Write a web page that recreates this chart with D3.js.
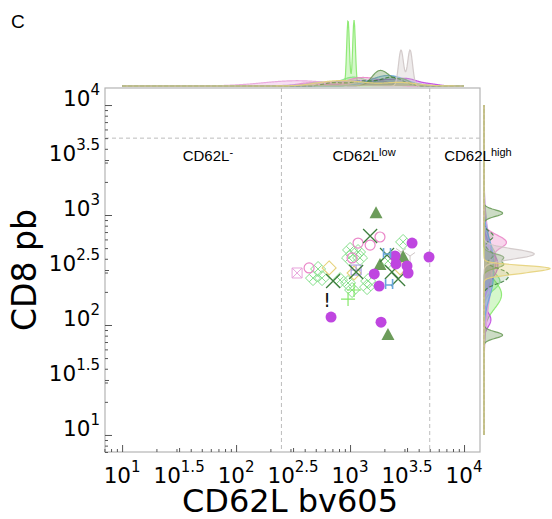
<!DOCTYPE html>
<html>
<head>
<meta charset="utf-8">
<script src="https://cdn.jsdelivr.net/npm/d3@7"></script>
<style>
  body { margin: 0; background: #fff; }
  svg { display: block; }
</style>
</head>
<body>
<script>
// panel c : CD62L bv605 vs CD8 pb, log-log scatter with marginal kdes

var tickExps = [1, 1.5, 2, 2.5, 3, 3.5, 4];
var gatesX = [250, 5000];
var gatesY = [5000];
var gateNames = [["CD62L", "-"], ["CD62L", "low"], ["CD62L", "high"]];

// one pair of arrays per marker group
var lgreenX = [524, 473, 568, 1000, 1175, 980, 1224, 817, 960, 1042, 1440, 1410, 2920, 2150];
var lgreenY = [323, 267, 267, 481, 461, 407, 407, 256, 241, 208, 251, 221, 569, 382];
var pinkX = [1830, 1175, 1500, 1042, 437];
var pinkY = [631, 556, 533, 407, 330];
var yellowX = [655, 1084, 2750];
var yellowY = [330, 297, 330];
var pinkSqX = [343];
var pinkSqY = [297];
var lavX = [1130];
var lavY = [316];
var limeX = [960, 1084];
var limeY = [172, 208];
var greyX = [2800, 3360];
var greyY = [461, 424];
var oliveX = [1690, 1830, 2920, 2150];
var oliveY = [1040, 351, 415, 81];
var dgreenX = [1500, 2110, 710, 1130, 2330, 2640];
var dgreenY = [644, 433, 251, 303, 303, 262];
var magX = [3500, 4930, 2480, 2530, 3160, 3230, 1630, 1800, 681, 1870];
var magY = [556, 415, 424, 359, 344, 297, 291, 226, 118, 106];
var blueX = [2200, 2110];
var blueY = [236, 452];
var bangX = [628];
var bangY = [169];

var W = 552, H = 519;
var pLeft = 105, pRight = 480, pTop = 88, pBottom = 452;

var svg = d3.select("body").append("svg")
    .attr("width", W).attr("height", H);

var x = d3.scaleLog().domain([Math.pow(10, 0.85), Math.pow(10, 4.14)]).range([pLeft, pRight]);
var y = d3.scaleLog().domain([Math.pow(10, 0.845), Math.pow(10, 4.155)]).range([pBottom, pTop]);

var series = [
  {xs: lgreenX, ys: lgreenY, mark: "diamondPlus", color: "#84df8a", bw: [0.08, 0.06]},
  {xs: pinkX, ys: pinkY, mark: "circleOpen", color: "#ea86c8", bw: [0.1, 0.05]},
  {xs: yellowX, ys: yellowY, mark: "diamond", color: "#e6d27a", bw: [0.15, 0.025]},
  {xs: pinkSqX, ys: pinkSqY, mark: "squareX", color: "#e8a4dc", bw: [0.3, 0.3]},
  {xs: lavX, ys: lavY, mark: "squarePlus", color: "#a696e0", bw: [0.3, 0.3]},
  {xs: limeX, ys: limeY, mark: "plus", color: "#86e86a", bw: [0.012, 0.12]},
  {xs: greyX, ys: greyY, mark: "tri", color: "#cfc6c6", bw: [0.022, 0.04]},
  {xs: oliveX, ys: oliveY, mark: "triangle", color: "#6c9c5a", bw: [0.06, 0.03]},
  {xs: dgreenX, ys: dgreenY, mark: "x", color: "#3f7f3f", bw: [0.08, 0.04], dash: true},
  {xs: magX, ys: magY, mark: "circle", color: "#bf46e0", bw: [0.08, 0.06]},
  {xs: blueX, ys: blueY, mark: "H", color: "#6aa6dc", bw: [0.15, 0.15]},
  {xs: bangX, ys: bangY, mark: "bang", color: "#111"}
];

// ---- marginal densities (computed in log10 space) ----
var grid = d3.range(1, 4.0001, 0.005);
function kde(vals, bw) {
  var k = 1 / (vals.length * bw * Math.sqrt(2 * Math.PI));
  return grid.map(function(t) {
    var s = 0;
    vals.forEach(function(v) {
      var z = (t - Math.log10(v)) / bw;
      s += Math.exp(-0.5 * z * z);
    });
    return [t, s * k];
  });
}

var kdeOrder = [0, 5, 1, 9, 4, 3, 10, 7, 8, 6, 2];
var topD = [], rightD = [];
kdeOrder.forEach(function(i) {
  var s = series[i];
  topD.push({s: s, d: kde(s.xs, s.bw[0])});
  rightD.push({s: s, d: kde(s.ys, s.bw[1])});
});
var topMax = d3.max(topD, function(k) { return d3.max(k.d, function(p) { return p[1]; }); });
var rightMax = d3.max(rightD, function(k) { return d3.max(k.d, function(p) { return p[1]; }); });

var topBase = 86, rightBase = 484, margH = 66;
var dTop = d3.scaleLinear().domain([0, topMax]).range([topBase, topBase - margH]);
var dRight = d3.scaleLinear().domain([0, rightMax]).range([rightBase, rightBase + margH]);

var gTop = svg.append("g");
topD.forEach(function(k) {
  var area = d3.area()
    .x(function(p) { return x(Math.pow(10, p[0])); })
    .y0(topBase).y1(function(p) { return dTop(p[1]); });
  var line = d3.line()
    .x(function(p) { return x(Math.pow(10, p[0])); })
    .y(function(p) { return dTop(p[1]); });
  gTop.append("path").attr("d", area(k.d))
    .style("fill", k.s.color).style("opacity", k.s.dash ? 0.15 : 0.35);
  gTop.append("path").attr("d", line(k.d))
    .style("fill", "none").style("stroke", k.s.color).style("stroke-width", 1.2)
    .style("stroke-dasharray", k.s.dash ? "4,2" : null).style("opacity", 0.9);
});

var gRight = svg.append("g");
rightD.forEach(function(k) {
  var area = d3.area()
    .y(function(p) { return y(Math.pow(10, p[0])); })
    .x0(rightBase).x1(function(p) { return dRight(p[1]); });
  var line = d3.line()
    .y(function(p) { return y(Math.pow(10, p[0])); })
    .x(function(p) { return dRight(p[1]); });
  gRight.append("path").attr("d", area(k.d))
    .style("fill", k.s.color).style("opacity", k.s.dash ? 0.15 : 0.35);
  gRight.append("path").attr("d", line(k.d))
    .style("fill", "none").style("stroke", k.s.color).style("stroke-width", 1.2)
    .style("stroke-dasharray", k.s.dash ? "4,2" : null).style("opacity", 0.9);
});

// ---- frame, gates ----
svg.append("rect")
  .attr("x", pLeft).attr("y", pTop).attr("width", pRight - pLeft).attr("height", pBottom - pTop)
  .style("fill", "none").style("stroke", "#b4b4b4").style("stroke-width", 1.2);

gatesX.forEach(function(g) {
  svg.append("line").attr("x1", x(g)).attr("x2", x(g)).attr("y1", pTop).attr("y2", pBottom)
    .style("stroke", "#bdbdbd").style("stroke-dasharray", "4,3");
});
gatesY.forEach(function(g) {
  svg.append("line").attr("x1", pLeft).attr("x2", pRight).attr("y1", y(g)).attr("y2", y(g))
    .style("stroke", "#bdbdbd").style("stroke-dasharray", "4,3");
});

var labelAt = [34, 700, 6700];
gateNames.forEach(function(n, i) {
  var t = svg.append("text").attr("x", x(labelAt[i])).attr("y", 161)
    .style("font-family", "Liberation Sans, Arial, sans-serif").style("font-size", "15px");
  t.append("tspan").text(n[0]);
  t.append("tspan").attr("dy", -5).style("font-size", "11px").text(n[1]);
});

// ---- ticks (inward, log) ----
var decades = tickExps.filter(function(e) { return e % 1 === 0; }).map(function(e) { return Math.pow(10, e); });
var halves = tickExps.filter(function(e) { return e % 1 !== 0; }).map(function(e) { return Math.pow(10, e); });
var minors = [];
[0, 1, 2, 3].forEach(function(e) {
  d3.range(2, 10).forEach(function(m) { minors.push(m * Math.pow(10, e)); });
});
minors = minors.filter(function(v) { return v >= 7 && v < 10000; });

function tickSet(axisFn, scale, vals, len, tr) {
  var g = svg.append("g").attr("transform", tr)
    .call(axisFn(scale).tickValues(vals).tickSize(-len).tickFormat(""));
  g.select(".domain").remove();
  g.selectAll("line").style("stroke", "#555");
}
tickSet(d3.axisBottom, x, decades, 7, "translate(0," + pBottom + ")");
tickSet(d3.axisBottom, x, halves, 4, "translate(0," + pBottom + ")");
tickSet(d3.axisBottom, x, minors, 3, "translate(0," + pBottom + ")");
tickSet(d3.axisLeft, y, decades, 7, "translate(" + pLeft + ",0)");
tickSet(d3.axisLeft, y, halves, 4, "translate(" + pLeft + ",0)");
tickSet(d3.axisLeft, y, minors, 3, "translate(" + pLeft + ",0)");

var font = "DejaVu Sans, sans-serif";
function powLabel(t, e) {
  t.append("tspan").text("10");
  t.append("tspan").attr("dy", -11).style("font-size", "15px").text(String(e));
}
svg.append("g").selectAll("text").data(tickExps).enter().append("text")
  .attr("x", function(e) { return x(Math.pow(10, e)); })
  .attr("y", 483)
  .attr("text-anchor", "middle")
  .style("font-family", font).style("font-size", "21.5px")
  .each(function(e) { powLabel(d3.select(this), e); });

svg.append("g").selectAll("text").data(tickExps).enter().append("text")
  .attr("x", 100)
  .attr("y", function(e) { return y(Math.pow(10, e)) + 1; })
  .attr("text-anchor", "end")
  .style("font-family", font).style("font-size", "21.5px")
  .each(function(e) { powLabel(d3.select(this), e); });

// axis titles and panel letter
svg.append("text").attr("x", 290).attr("y", 512).attr("text-anchor", "middle")
  .style("font-family", font).style("font-size", "32px").text("CD62L bv605");
svg.append("text").attr("transform", "translate(36,270) rotate(-90)").attr("text-anchor", "middle")
  .style("font-family", font).style("font-size", "33px").text("CD8 pb");
svg.append("text").attr("x", 11).attr("y", 28)
  .style("font-family", "Liberation Sans, Arial, sans-serif").style("font-size", "19px").text("C");

// ---- markers ----
function drawMarker(g, m, c) {
  var st = function(sel, w) { return sel.style("fill", "none").style("stroke", c).style("stroke-width", w || 1); };
  if (m === "circle") {
    g.append("circle").attr("r", 5.5).style("fill", c);
  } else if (m === "circleOpen") {
    st(g.append("circle").attr("r", 5), 1.2);
  } else if (m === "triangle") {
    g.append("path").attr("d", "M0,-7L6.5,5L-6.5,5Z").style("fill", c);
  } else if (m === "x") {
    st(g.append("path").attr("d", "M-7,-7L7,7M-7,7L7,-7"), 1.3);
  } else if (m === "plus") {
    st(g.append("path").attr("d", "M-7,0H7M0,-7V7"), 1.2);
  } else if (m === "diamond") {
    st(g.append("path").attr("d", "M0,-7L7,0L0,7L-7,0Z"), 1.1);
  } else if (m === "diamondPlus") {
    st(g.append("path").attr("d", "M0,-7.5L7.5,0L0,7.5L-7.5,0ZM-3.75,-3.75L3.75,3.75M-3.75,3.75L3.75,-3.75"), 1);
  } else if (m === "squareX") {
    st(g.append("path").attr("d", "M-5,-5H5V5H-5ZM-5,-5L5,5M-5,5L5,-5"), 1);
  } else if (m === "squarePlus") {
    st(g.append("path").attr("d", "M-5,-5H5V5H-5ZM-5,0H5M0,-5V5"), 1);
  } else if (m === "H") {
    st(g.append("path").attr("d", "M-3.5,-5V5M3.5,-5V5M-3.5,1H3.5"), 1.6);
  } else if (m === "tri") {
    st(g.append("path").attr("d", "M0,0V6M0,0L-5,-3.5M0,0L5,-3.5"), 1);
  } else if (m === "bang") {
    g.append("text").attr("text-anchor", "middle").attr("y", 7)
      .style("font-family", font).style("font-size", "19px")
      .style("fill", c).text("!");
  }
}

var gPts = svg.append("g");
series.forEach(function(s) {
  s.xs.forEach(function(v, i) {
    var g = gPts.append("g").attr("transform", "translate(" + x(v) + "," + y(s.ys[i]) + ")");
    drawMarker(g, s.mark, s.color);
  });
});
</script>
</body>
</html>
